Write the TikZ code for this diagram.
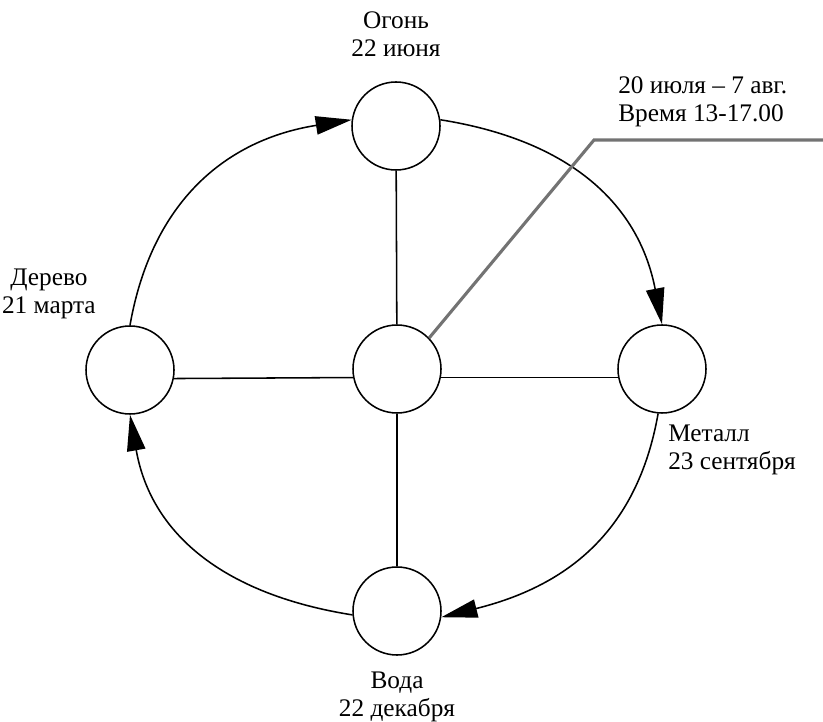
\documentclass[tikz,border=0pt]{standalone}
\usepackage{fontspec}
\setmainfont{Liberation Serif}
\usetikzlibrary{arrows.meta,positioning}
\tikzset{
  >={Triangle[length=9mm,width=4.6mm]},
  element/.style={circle,draw,line width=1.1pt,minimum size=2.2cm,inner sep=0pt},
  season/.style={inner sep=0pt,align=center,font=\fontsize{18}{20}\selectfont},
  spoke/.style={line width=1.1pt},
  cycle arrow/.style={->,line width=1.1pt,looseness=1.07},
  leader/.style={draw=black!55,line width=2.2pt},
}

\begin{document}
\begin{tikzpicture}
  \useasboundingbox (0,0) rectangle (20.575,-18.05);
  % elements
  \node[element] (fire) at (9.9,-3.15) {};
  \node[element] (core) at (9.925,-9.225) {};
  \node[element] (wood) at (3.25,-9.25) {};
  \node[element] (metal) at (16.55,-9.225) {};
  \node[element] (water) at (9.925,-15.275) {};
  \node[season,above=0.6cm of fire] (fire label) {Огонь\\22 июня};
  \node[season,below=0.4cm of water] (water label) {Вода\\22 декабря};
  \node[season,above left=0.15cm and 0.85cm of wood.north] (wood label) {Дерево\\21 марта};
  \node[season,align=left,below right=0.28cm and 0.15cm of metal.south] (metal label) {Металл\\23 сентября};
  % cross
  \foreach \n in {fire,water} \draw[spoke] (core) -- (\n);
  \draw[spoke] (wood.-11.8) -- (core.191.8);
  \draw[spoke] (core.-11.8) -- (metal.191.8);
  % yearly cycle
  \draw[cycle arrow] (wood.north) to[out=80,in=189] (fire.172);
  \draw[cycle arrow] (fire.8) to[out=-9,in=101] (metal.north);
  \draw[cycle arrow] (metal.-95) to[out=-100,in=14] (water.-8);
  \draw[cycle arrow] (water.185) to[out=171,in=-80] (wood.south);
  % callout
  \coordinate (bend) at (14.85,-3.5);
  \coordinate (tail) at (20.575,-3.5);
  \draw[leader] (core.44) -- (bend) -- (tail);
  \node[season,align=left,above right=0.33cm and 0.6cm of bend] (time label) {20 июля – 7 авг.\\Время 13-17.00};
\end{tikzpicture}
\end{document}
